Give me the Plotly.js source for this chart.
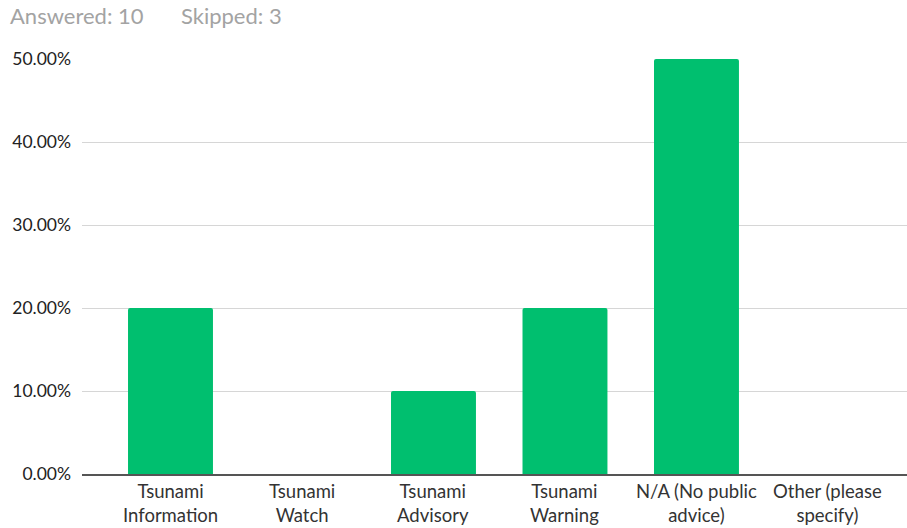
<!DOCTYPE html>
<html>
<head>
<meta charset="utf-8">
<script src="https://cdn.plot.ly/plotly-3.0.1.min.js"></script>
<style>html,body{margin:0;padding:0;background:#fff;}#chart{width:907px;height:528px;}</style>
</head>
<body>
<div id="chart"></div>
<script>
const categories = ["Tsunami<br>Information", "Tsunami<br>Watch", "Tsunami<br>Advisory", "Tsunami<br>Warning", "N/A (No public<br>advice)", "Other (please<br>specify)"];
const values = [0.20, 0.0, 0.10, 0.20, 0.50, 0.0];
const yTicks = [0, 0.1, 0.2, 0.3, 0.4, 0.5];
const answeredText = "Answered: 10";
const skippedText = "Skipped: 3";

const PLOT_H = 415, PLOT_W = 825, L = 82, BOTTOM = 474;
const py = pix => (BOTTOM - pix) / PLOT_H;
const px = pix => (pix - L) / PLOT_W;

const trace = {
  type: 'bar',
  x: categories.map((c, i) => i),
  y: values,
  width: 0.646,
  marker: {color: '#00bf6f', cornerradius: 2},
  hoverinfo: 'none'
};

const labelFont = {family: 'Lato, sans-serif', size: 18.5, color: '#333'};
const annotations = [
  {text: answeredText, xref: 'paper', yref: 'paper', x: px(8), y: py(16),
   xanchor: 'left', yanchor: 'middle', showarrow: false,
   font: {family: 'Lato, sans-serif', size: 22, color: '#a3a3a3'}},
  {text: skippedText, xref: 'paper', yref: 'paper', x: px(179), y: py(16),
   xanchor: 'left', yanchor: 'middle', showarrow: false,
   font: {family: 'Lato, sans-serif', size: 22, color: '#a3a3a3'}}
];
categories.forEach((c, i) => {
  annotations.push({text: c, xref: 'x', yref: 'paper', x: i, y: py(503),
    xanchor: 'center', yanchor: 'middle', showarrow: false, font: labelFont, borderpad: 0});
});

const layout = {
  width: 907, height: 528,
  margin: {l: L, r: 0, t: 59, b: 54},
  paper_bgcolor: '#fff', plot_bgcolor: '#fff',
  font: {family: 'Lato, "Open Sans", sans-serif', size: 16, color: '#333'},
  showlegend: false,
  xaxis: {
    range: [-0.673, 5.601],
    tickmode: 'array',
    tickvals: categories.map((c, i) => i),
    showticklabels: false,
    showgrid: false, zeroline: false,
    showline: true, linecolor: '#555', linewidth: 2,
    ticks: '',
    fixedrange: true
  },
  yaxis: {
    range: [0, 0.5],
    tickmode: 'array',
    tickvals: yTicks,
    ticktext: yTicks.map(v => (v * 100).toFixed(2) + '%'),
    showgrid: true, gridcolor: '#d6d6d6', gridwidth: 1,
    zeroline: false, showline: false,
    ticks: '', ticklabelstandoff: 10,
    tickfont: {family: 'Lato, sans-serif', size: 17.5, color: '#222'},
    fixedrange: true
  },
  annotations: annotations
};

Plotly.newPlot('chart', [trace], layout, {displayModeBar: false, staticPlot: true});
</script>
</body>
</html>
